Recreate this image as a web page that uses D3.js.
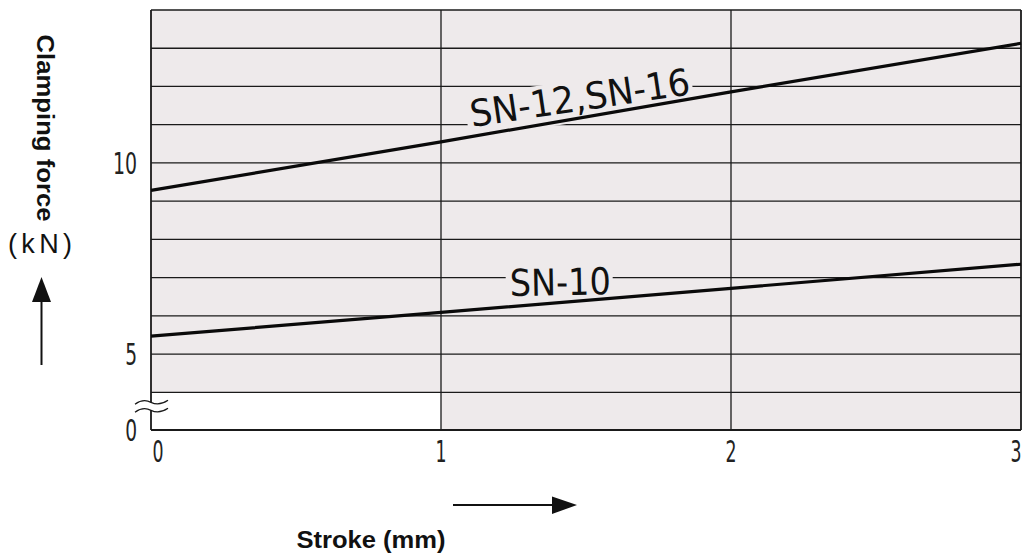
<!DOCTYPE html>
<html>
<head>
<meta charset="utf-8">
<script src="https://cdn.jsdelivr.net/npm/d3@7"></script>
<style>
  html, body { margin: 0; padding: 0; background: #ffffff; }
  svg { display: block; }
</style>
</head>
<body>
<svg id="chart" width="1027" height="557"></svg>
<script>
// ---- data ----
const strokeTicks = [0, 1, 2, 3];
const forceTicks = [0, 5, 10];
const gridForces = [4, 5, 6, 7, 8, 9, 10, 11, 12, 13, 14];
const strokeValues = [0, 1, 2, 3];
const sn12Values = [9.28, 10.55, 11.86, 13.13];
const sn10Values = [5.47, 6.09, 6.72, 7.35];
const seriesNames = ["SN-12,SN-16", "SN-10"];
const xTitle = "Stroke (mm)";
const yTitle = "Clamping force";
const yUnit = "(kN)";

// ---- layout ----
const svg = d3.select("#chart");
const x = d3.scaleLinear().domain([0, 3]).range([151, 1021]);
// broken axis: 0..4 compressed into one grid step
const y = d3.scaleLinear().domain([0, 4, 14]).range([430, 392.3, 10]);

const ink = "#1a1a1a";
const paper = "#eeeaeb";

// plot background
svg.append("rect")
  .attr("x", x(0)).attr("y", y(14))
  .attr("width", x(3) - x(0)).attr("height", y(0) - y(14))
  .attr("fill", paper);
// white region of the axis break
svg.append("rect")
  .attr("x", x(0)).attr("y", y(4))
  .attr("width", x(1) - x(0)).attr("height", y(0) - y(4))
  .attr("fill", "#ffffff");

const grid = svg.append("g");
grid.selectAll("line.h").data(gridForces).join("line")
  .attr("x1", x(0)).attr("x2", x(3))
  .attr("y1", d => y(d)).attr("y2", d => y(d))
  .attr("stroke", ink).attr("stroke-width", 1.3);
grid.selectAll("line.v").data([1, 2, 3]).join("line")
  .attr("x1", d => x(d)).attr("x2", d => x(d))
  .attr("y1", y(14)).attr("y2", y(0))
  .attr("stroke", ink).attr("stroke-width", d => d === 3 ? 1.8 : 1.3);
grid.append("line")
  .attr("x1", x(0)).attr("x2", x(3)).attr("y1", y(0)).attr("y2", y(0))
  .attr("stroke", ink).attr("stroke-width", 1.8);
const brkTop = y(4) + 10, brkBot = y(4) + 18;
grid.append("line")
  .attr("x1", x(0)).attr("x2", x(0)).attr("y1", y(14)).attr("y2", brkTop)
  .attr("stroke", ink).attr("stroke-width", 1.8);
grid.append("line")
  .attr("x1", x(0)).attr("x2", x(0)).attr("y1", brkBot).attr("y2", y(0))
  .attr("stroke", ink).attr("stroke-width", 1.8);
[brkTop, brkBot].forEach(yy => {
  grid.append("path")
    .attr("d", `M${x(0) - 16},${yy + 2} q8,-6 16,-2 t17,-2`)
    .attr("fill", "none").attr("stroke", ink).attr("stroke-width", 1.3);
});

// ---- series labels with masks ----
const labelFont = "DejaVu Sans";
function maskedLabel(txt, bx, by, angle, len, size) {
  const g = svg.append("g").attr("transform", `translate(${bx},${by}) rotate(${angle})`);
  const r = g.append("rect");
  g.append("text")
    .attr("x", 0).attr("y", 0)
    .attr("font-family", labelFont).attr("font-size", size)
    .attr("textLength", len).attr("lengthAdjust", "spacingAndGlyphs")
    .attr("fill", "#111").text(txt);
  r.attr("x", -4).attr("y", -31).attr("width", len + 6).attr("height", 42)
    .attr("fill", paper);
  return g;
}
maskedLabel(seriesNames[0], 472, 127, -8.5, 222, 37);
maskedLabel(seriesNames[1], 510, 296, -1, 101, 37);

// ---- lines ----
const line = d3.line().x((d, i) => x(strokeValues[i])).y(d => y(d));
[sn12Values, sn10Values].forEach(vals => {
  svg.append("path").datum(vals)
    .attr("d", line)
    .attr("fill", "none").attr("stroke", "#0a0a0a").attr("stroke-width", 3.2);
});

// ---- tick labels (condensed via horizontal scale) ----
const tickFont = "DejaVu Sans";
svg.selectAll("text.xt").data(strokeTicks).join("text")
  .attr("class", "xt")
  .attr("transform", d => `translate(${x(d) + (d === 0 ? 7 : d === 3 ? -5 : 0)},462) scale(0.56,1)`)
  .attr("text-anchor", "middle")
  .attr("font-family", tickFont).attr("font-size", 31)
  .attr("fill", "#222").text(d => d);
svg.selectAll("text.yt").data(forceTicks).join("text")
  .attr("class", "yt")
  .attr("transform", d => `translate(137,${y(d) + 11}) scale(${String(d).length > 1 ? 0.61 : 0.6},1)`)
  .attr("text-anchor", "end")
  .attr("font-family", tickFont).attr("font-size", 31)
  .attr("fill", "#222").text(d => d);

// ---- axis titles ----
svg.append("text")
  .attr("transform", "translate(37,128) rotate(90)")
  .attr("text-anchor", "middle")
  .attr("font-family", "Liberation Sans, Arial, sans-serif")
  .attr("font-weight", "bold").attr("font-size", 23.5)
  .attr("textLength", 187).attr("lengthAdjust", "spacingAndGlyphs")
  .attr("fill", "#111").text(yTitle);
svg.append("text")
  .attr("x", 40).attr("y", 253)
  .attr("text-anchor", "middle")
  .attr("font-family", "Liberation Sans, Arial, sans-serif")
  .attr("font-size", 27)
  .attr("textLength", 64).attr("lengthAdjust", "spacing")
  .attr("fill", "#111").text(yUnit);
svg.append("text")
  .attr("x", 371).attr("y", 548)
  .attr("text-anchor", "middle")
  .attr("font-family", "Liberation Sans, Arial, sans-serif")
  .attr("font-weight", "bold").attr("font-size", 24)
  .attr("textLength", 149).attr("lengthAdjust", "spacingAndGlyphs")
  .attr("fill", "#111").text(xTitle);

// ---- arrows ----
svg.append("line").attr("x1", 41.5).attr("x2", 41.5).attr("y1", 365).attr("y2", 300)
  .attr("stroke", "#111").attr("stroke-width", 2);
svg.append("path").attr("d", "M41.5,277 L32,302 L51,302 Z").attr("fill", "#111");
svg.append("line").attr("x1", 453).attr("x2", 554).attr("y1", 505).attr("y2", 505)
  .attr("stroke", "#111").attr("stroke-width", 2);
svg.append("path").attr("d", "M577,505 L552,496.5 L552,514 Z").attr("fill", "#111");
</script>
</body>
</html>
